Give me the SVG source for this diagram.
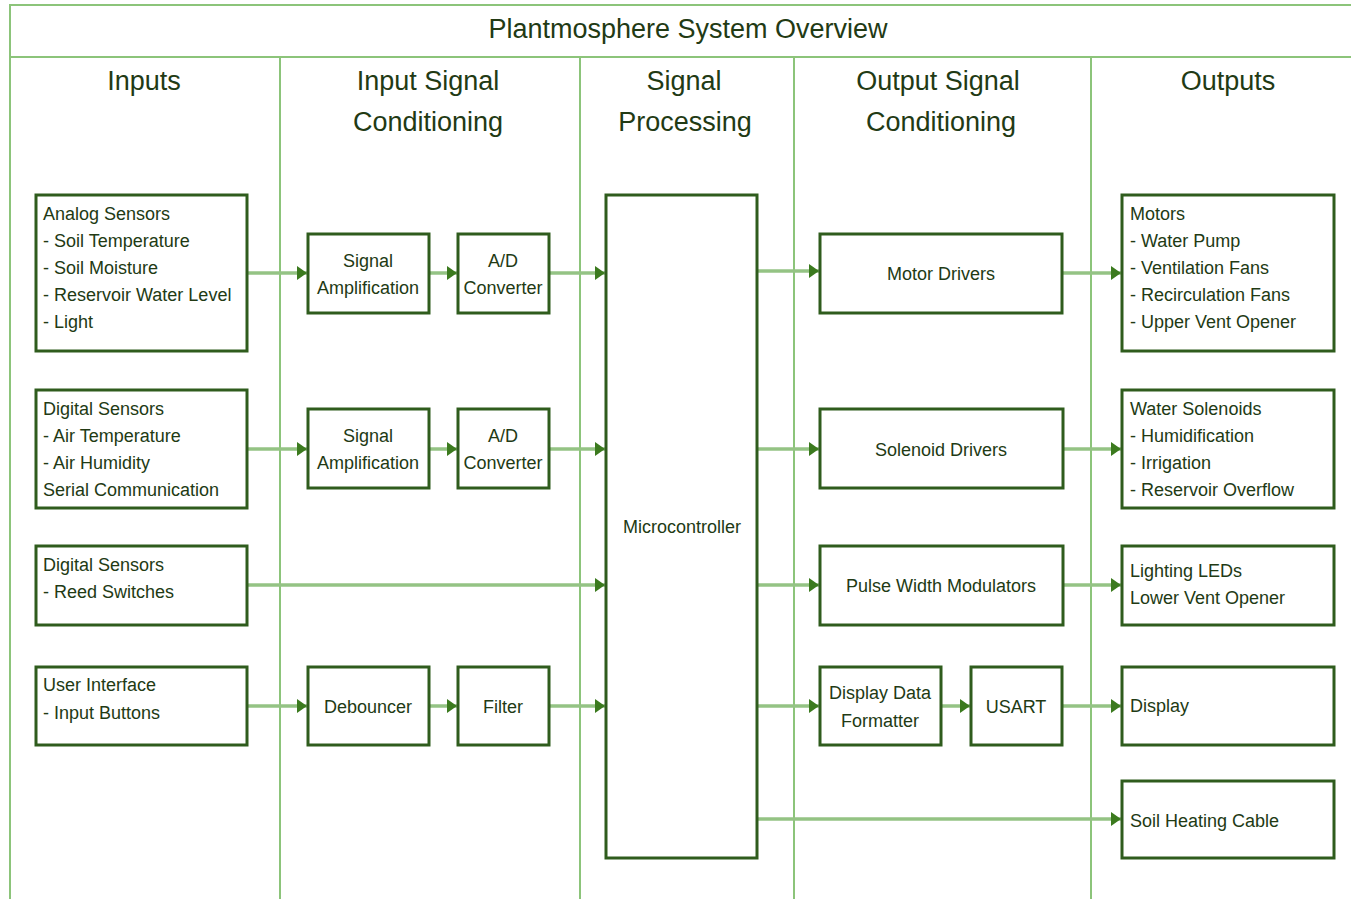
<svg xmlns="http://www.w3.org/2000/svg" width="1351" height="899" viewBox="0 0 1351 899">
<style>
.lane{stroke:#8cc47a;stroke-width:2;fill:none}
.box{fill:#fff;stroke:#2f5c1d;stroke-width:3}
.t{font-family:"Liberation Sans",Arial,sans-serif;font-size:18px;fill:#223a14}
.c{text-anchor:middle}
.h{font-family:"Liberation Sans",Arial,sans-serif;font-size:27px;fill:#223a14;text-anchor:middle}
.e{stroke:#94c384;stroke-width:3.5;fill:none;marker-end:url(#ah)}
</style>
<defs>
<marker id="ah" viewBox="0 0 10 14" refX="10" refY="7" markerWidth="10" markerHeight="14" markerUnits="userSpaceOnUse" orient="auto">
<path d="M0,0 L10,7 L0,14 Z" fill="#3b7a1e"/>
</marker>
</defs>
<rect width="1351" height="899" fill="#fff"/>
<g id="frame">
<path class="lane" d="M10,899 V5 H1351 M10,57 H1351 M280,57 V899 M580,57 V899 M794,57 V899 M1091,57 V899"/>
<text class="h" x="688" y="38">Plantmosphere System Overview</text>
<text class="h" x="144" y="90">Inputs</text>
<text class="h" x="428" y="90">Input Signal</text>
<text class="h" x="428" y="131">Conditioning</text>
<text class="h" x="684" y="90">Signal</text>
<text class="h" x="685" y="131">Processing</text>
<text class="h" x="938" y="90">Output Signal</text>
<text class="h" x="941" y="131">Conditioning</text>
<text class="h" x="1228" y="90">Outputs</text>
</g>
<g id="connectors">
<path class="e" d="M247,273 H307"/>
<path class="e" d="M429,273 H457"/>
<path class="e" d="M549,273 H605"/>
<path class="e" d="M247,449 H307"/>
<path class="e" d="M429,449 H457"/>
<path class="e" d="M549,449 H605"/>
<path class="e" d="M247,585 H605"/>
<path class="e" d="M247,706 H307"/>
<path class="e" d="M429,706 H457"/>
<path class="e" d="M549,706 H605"/>
<path class="e" d="M757,271 H819"/>
<path class="e" d="M1062,273 H1121"/>
<path class="e" d="M757,449 H819"/>
<path class="e" d="M1063,449 H1121"/>
<path class="e" d="M757,585 H819"/>
<path class="e" d="M1063,585 H1121"/>
<path class="e" d="M757,706 H819"/>
<path class="e" d="M941,706 H970"/>
<path class="e" d="M1062,706 H1121"/>
<path class="e" d="M757,819 H1121"/>
</g>
<g id="analog"><rect class="box" x="36" y="195" width="211" height="156"/>
<text class="t" x="43" y="220">Analog Sensors</text><text class="t" x="43" y="247">- Soil Temperature</text><text class="t" x="43" y="274">- Soil Moisture</text><text class="t" x="43" y="301">- Reservoir Water Level</text><text class="t" x="43" y="328">- Light</text></g>
<g id="digital1"><rect class="box" x="36" y="390" width="211" height="118"/>
<text class="t" x="43" y="415">Digital Sensors</text><text class="t" x="43" y="442">- Air Temperature</text><text class="t" x="43" y="469">- Air Humidity</text><text class="t" x="43" y="496">Serial Communication</text></g>
<g id="digital2"><rect class="box" x="36" y="546" width="211" height="79"/>
<text class="t" x="43" y="571">Digital Sensors</text><text class="t" x="43" y="598">- Reed Switches</text></g>
<g id="ui"><rect class="box" x="36" y="667" width="211" height="78"/>
<text class="t" x="43" y="691">User Interface</text><text class="t" x="43" y="719">- Input Buttons</text></g>
<g id="amp1"><rect class="box" x="308" y="234" width="121" height="79"/>
<text class="t c" x="368" y="267">Signal</text><text class="t c" x="368" y="294">Amplification</text></g>
<g id="ad1"><rect class="box" x="458" y="234" width="91" height="79"/>
<text class="t c" x="503" y="267">A/D</text><text class="t c" x="503" y="294">Converter</text></g>
<g id="amp2"><rect class="box" x="308" y="409" width="121" height="79"/>
<text class="t c" x="368" y="442">Signal</text><text class="t c" x="368" y="469">Amplification</text></g>
<g id="ad2"><rect class="box" x="458" y="409" width="91" height="79"/>
<text class="t c" x="503" y="442">A/D</text><text class="t c" x="503" y="469">Converter</text></g>
<g id="debouncer"><rect class="box" x="308" y="667" width="121" height="78"/>
<text class="t c" x="368" y="713">Debouncer</text></g>
<g id="filter"><rect class="box" x="458" y="667" width="91" height="78"/>
<text class="t c" x="503" y="713">Filter</text></g>
<g id="micro"><rect class="box" x="606" y="195" width="151" height="663"/>
<text class="t c" x="682" y="533">Microcontroller</text></g>
<g id="motordrivers"><rect class="box" x="820" y="234" width="242" height="79"/>
<text class="t c" x="941" y="280">Motor Drivers</text></g>
<g id="solenoiddrivers"><rect class="box" x="820" y="409" width="243" height="79"/>
<text class="t c" x="941" y="456">Solenoid Drivers</text></g>
<g id="pwm"><rect class="box" x="820" y="546" width="243" height="79"/>
<text class="t c" x="941" y="592">Pulse Width Modulators</text></g>
<g id="ddf"><rect class="box" x="820" y="667" width="121" height="78"/>
<text class="t c" x="880" y="699">Display Data</text><text class="t c" x="880" y="727">Formatter</text></g>
<g id="usart"><rect class="box" x="971" y="667" width="91" height="78"/>
<text class="t c" x="1016" y="713">USART</text></g>
<g id="motors"><rect class="box" x="1122" y="195" width="212" height="156"/>
<text class="t" x="1130" y="220">Motors</text><text class="t" x="1130" y="247">- Water Pump</text><text class="t" x="1130" y="274">- Ventilation Fans</text><text class="t" x="1130" y="301">- Recirculation Fans</text><text class="t" x="1130" y="328">- Upper Vent Opener</text></g>
<g id="solenoids"><rect class="box" x="1122" y="390" width="212" height="118"/>
<text class="t" x="1130" y="415">Water Solenoids</text><text class="t" x="1130" y="442">- Humidification</text><text class="t" x="1130" y="469">- Irrigation</text><text class="t" x="1130" y="496">- Reservoir Overflow</text></g>
<g id="lighting"><rect class="box" x="1122" y="546" width="212" height="79"/>
<text class="t" x="1130" y="577">Lighting LEDs</text><text class="t" x="1130" y="604">Lower Vent Opener</text></g>
<g id="display"><rect class="box" x="1122" y="667" width="212" height="78"/>
<text class="t" x="1130" y="712">Display</text></g>
<g id="heating"><rect class="box" x="1122" y="781" width="212" height="77"/>
<text class="t" x="1130" y="827">Soil Heating Cable</text></g>
</svg>
